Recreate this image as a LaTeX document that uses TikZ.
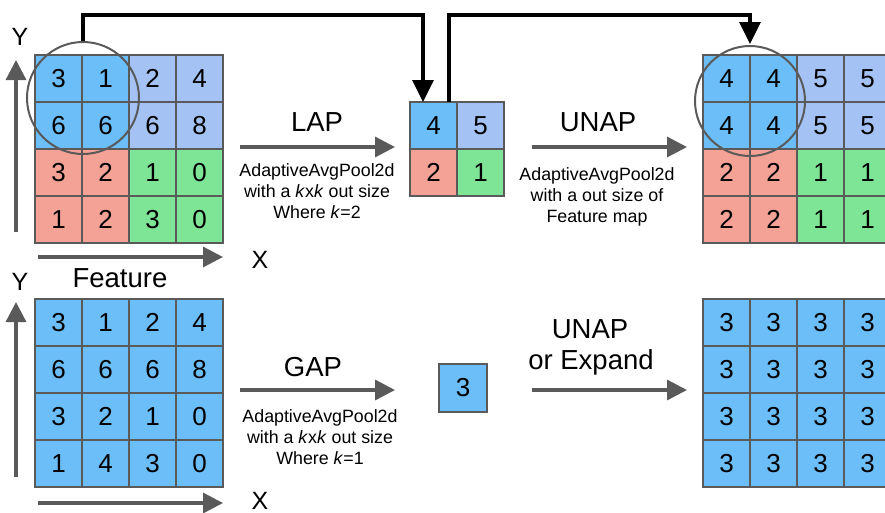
\documentclass[tikz,border=0pt]{standalone}
\usepackage{fontspec}
\setmainfont{Liberation Sans}
\usetikzlibrary{arrows.meta,calc}
\definecolor{cb}{RGB}{108,190,248}
\definecolor{cp}{RGB}{164,194,244}
\definecolor{cr}{RGB}{244,162,150}
\definecolor{cg}{RGB}{126,229,151}
\definecolor{gridgray}{RGB}{90,90,90}
\definecolor{arrowgray}{RGB}{90,90,90}
\begin{document}
\begin{tikzpicture}[x=1pt,y=-1pt,
  cell/.style={draw=gridgray, line width=2pt, minimum size=47pt, inner sep=0pt,
    font=\fontsize{26}{30}\selectfont, anchor=center},
  garrow/.style={draw=arrowgray, line width=3.3pt, -{Triangle[length=20pt,width=20pt]}},
  blk/.style={draw=black, line width=3.3pt, -{Triangle[length=22pt,width=21pt]}},
  big/.style={font=\fontsize{27.5}{33}\selectfont, inner sep=0pt},
  axl/.style={font=\fontsize{25}{30}\selectfont, inner sep=0pt},
  desc/.style={font=\fontsize{17.8}{21}\selectfont, align=center, inner sep=0pt},
  ring/.style={circle, draw=gridgray, line width=2pt, inner sep=0pt}]
\useasboundingbox (0,0) rectangle (885,512);
\clip (0,0) rectangle (885,512);

% top-left feature grid
\foreach \v/\col [count=\i from 0] in {3/cb,1/cb,2/cp,4/cp,6/cb,6/cb,6/cp,8/cp,3/cr,2/cr,1/cg,0/cg,1/cr,2/cr,3/cg,0/cg}{
  \pgfmathtruncatemacro\r{int(\i/4)}\pgfmathtruncatemacro\c{mod(\i,4)}
  \node[cell, fill=\col] (a\i) at ({58.5+47*\c},{78.5+47*\r}) {\v};
}
% small LAP result grid
\foreach \v/\col [count=\i from 0] in {4/cb,5/cp,2/cr,1/cg}{
  \pgfmathtruncatemacro\r{int(\i/2)}\pgfmathtruncatemacro\c{mod(\i,2)}
  \node[cell, fill=\col] (s\i) at ({433.5+47*\c},{125.5+47*\r}) {\v};
}
% top-right grid
\foreach \v/\col [count=\i from 0] in {4/cb,4/cb,5/cp,5/cp,4/cb,4/cb,5/cp,5/cp,2/cr,2/cr,1/cg,1/cg,2/cr,2/cr,1/cg,1/cg}{
  \pgfmathtruncatemacro\r{int(\i/4)}\pgfmathtruncatemacro\c{mod(\i,4)}
  \node[cell, fill=\col] (b\i) at ({726.5+47*\c},{78.5+47*\r}) {\v};
}
% bottom-left grid
\foreach \v [count=\i from 0] in {3,1,2,4,6,6,6,8,3,2,1,0,1,4,3,0}{
  \pgfmathtruncatemacro\r{int(\i/4)}\pgfmathtruncatemacro\c{mod(\i,4)}
  \node[cell, fill=cb] (c\i) at ({58.5+47*\c},{322.5+47*\r}) {\v};
}
% GAP result
\node[cell, fill=cb, minimum size=48pt] (g) at (463,388) {3};
% bottom-right grid
\foreach \i in {0,...,15}{
  \pgfmathtruncatemacro\r{int(\i/4)}\pgfmathtruncatemacro\c{mod(\i,4)}
  \node[cell, fill=cb] (d\i) at ({726.5+47*\c},{322.5+47*\r}) {3};
}

% circles
\node[ring, minimum size=112pt] (r1) at (83,98) {};
\node[ring, minimum size=110pt] (r2) at (750,101) {};

% black connectors
\coordinate (t1) at (423,102);
\coordinate (t2) at (449,102);
\draw[blk] (r1.north) -- (r1.north |- 0,15) -| (t1);
\draw[blk, shorten >=1pt] (t2) -- (t2 |- 0,15) -| (r2.north);

% axes
\coordinate (ya0) at (16,232); \coordinate (ya1) at (16,60);
\coordinate (xa0) at (38,257); \coordinate (xa1) at (223,257);
\coordinate (yb0) at (16,477); \coordinate (yb1) at (16,302);
\coordinate (xb0) at (38,503); \coordinate (xb1) at (223,503);
\draw[garrow] (ya0) -- (ya1);
\draw[garrow] (xa0) -- (xa1);
\draw[garrow] (yb0) -- (yb1);
\draw[garrow] (xb0) -- (xb1);
\node[axl] (ly1) at (20,37) {Y};
\node[axl] (lx1) at (260,260) {X};
\node[axl] (ly2) at (20,282) {Y};
\node[axl] (lx2) at (260,501) {X};
\node[big] (feat) at (120,278) {Feature};

% operation arrows
\coordinate (p0) at (240,147); \coordinate (p1) at (395,147);
\coordinate (q0) at (532,147); \coordinate (q1) at (687,147);
\coordinate (u0) at (240,390); \coordinate (u1) at (395,390);
\coordinate (w0) at (532,390); \coordinate (w1) at (687,390);
\draw[garrow] (p0) -- (p1);
\draw[garrow] (q0) -- (q1);
\draw[garrow] (u0) -- (u1);
\draw[garrow] (w0) -- (w1);

\node[big] (lap) at (317,122) {LAP};
\node[desc] (lapd) at (317,191) {AdaptiveAvgPool2d\\with a \textit{k}x\textit{k} out size\\Where \textit{k}=2};
\node[big] (unap) at (598,122) {UNAP};
\node[desc] (unapd) at (597,197) {AdaptiveAvgPool2d\\with a out size of\\Feature map};
\node[big] (gap) at (313,367) {GAP};
\node[desc] (gapd) at (320,437) {AdaptiveAvgPool2d\\with a \textit{k}x\textit{k} out size\\Where \textit{k}=1};
\node[big] (unap2) at (590,329) {UNAP};
\node[big] (orexp) at (591,362) {or Expand};
\end{tikzpicture}
\end{document}
